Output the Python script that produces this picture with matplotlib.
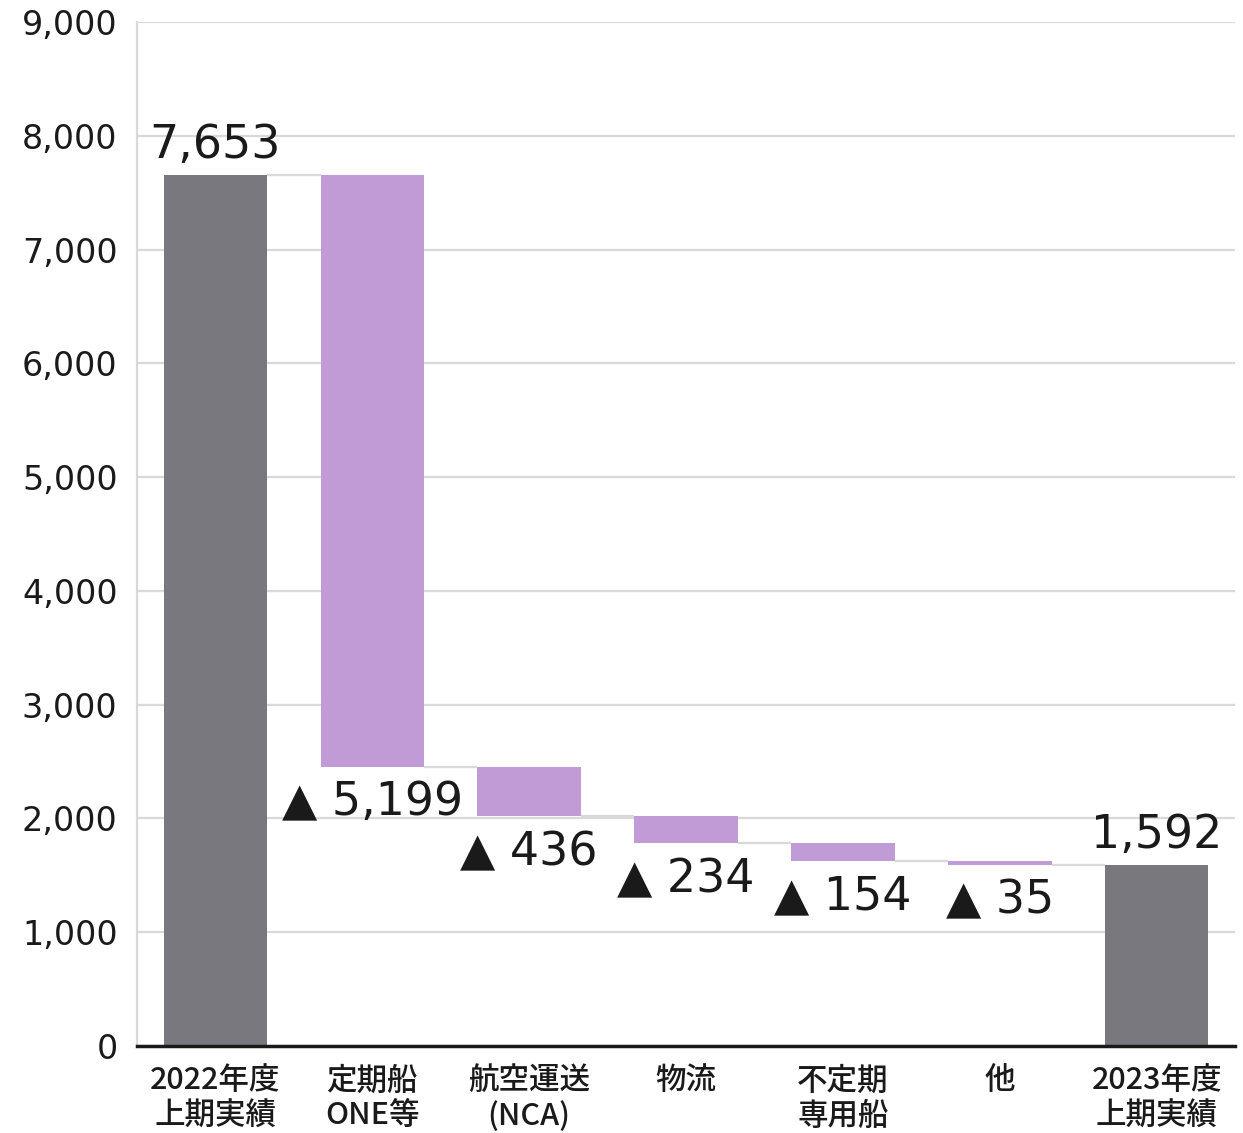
import matplotlib.pyplot as plt
import numpy as np

plt.rcParams['font.family'] = ['DejaVu Sans', 'Noto Sans CJK JP']

categories = ['2022年度\n上期実績', '定期船\nONE等', '航空運送\n(NCA)', '物流',
              '不定期\n専用船', '他', '2023年度\n上期実績']
start_value = 7653
changes = [-5199, -436, -234, -154, -35]
end_value = 1592

gray = '#7a787f'
purple = '#c09bd5'
grid_gray = '#d9d9d9'
text_col = '#1a1a1a'

fig = plt.figure(figsize=(12.43, 11.33), dpi=100)
ax = fig.add_axes([0.1102, 0.0768, 0.8834, 0.9038])

width = 0.66
x = np.arange(len(categories))

# running level after each change
levels = [start_value]
for c in changes:
    levels.append(levels[-1] + c)

ax.bar(x[0], start_value, width=width, color=gray, zorder=3)
for i, c in enumerate(changes):
    ax.bar(x[i + 1], levels[i] - levels[i + 1], bottom=levels[i + 1],
           width=width, color=purple, zorder=3)
ax.bar(x[-1], end_value, width=width, color=gray, zorder=3)

# connectors between bars
for i in range(len(categories) - 1):
    lvl = levels[i] if i < len(levels) else end_value
    ax.hlines(lvl, x[i] + width / 2, x[i + 1] - width / 2, color=grid_gray,
              lw=1.6, zorder=2)

# value labels
for xi, v in [(x[0], start_value), (x[-1], end_value)]:
    ax.annotate(f'{v:,}', (xi, v), xytext=(0, 5), textcoords='offset points',
                ha='center', va='bottom', fontsize=33, color=text_col, zorder=5)
for i, c in enumerate(changes):
    ax.annotate(f'▲ {abs(c):,}', (x[i + 1], levels[i + 1]), xytext=(0, -10),
                textcoords='offset points', ha='center', va='top', fontsize=33,
                color=text_col, zorder=5)

ax.set_xlim(-0.5, len(categories) - 0.5)
ax.set_ylim(0, 9000)
ax.set_yticks(np.arange(0, 9001, 1000))
ax.set_yticklabels([f'{v:,}' for v in range(0, 9001, 1000)], fontsize=24, color=text_col)
ax.set_xticks(x)
ax.set_xticklabels(categories, fontsize=22, color=text_col, linespacing=1.2,
                   family=['Noto Sans CJK JP', 'DejaVu Sans'], fontweight='medium')
ax.tick_params(axis='y', length=0, pad=14)
ax.tick_params(axis='x', length=0, pad=14)

ax.grid(axis='y', color=grid_gray, lw=1.6, zorder=0)
ax.set_axisbelow(True)
for s in ['top', 'right']:
    ax.spines[s].set_visible(False)
ax.spines['left'].set_color(grid_gray)
ax.spines['left'].set_linewidth(1.6)
ax.spines['bottom'].set_color(text_col)
ax.spines['bottom'].set_linewidth(2.5)
ax.spines['bottom'].set_zorder(4)

fig.savefig('out.png', dpi=100)
